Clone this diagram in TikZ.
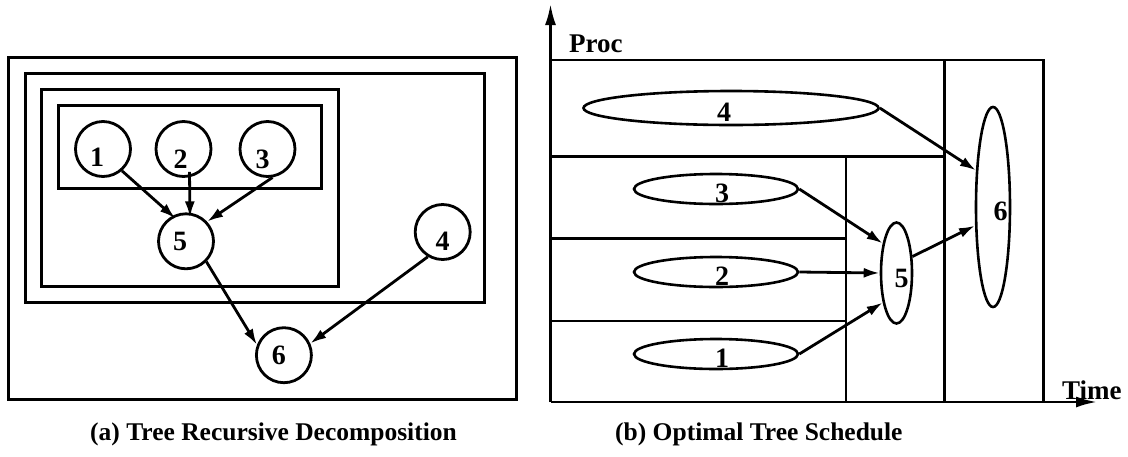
\documentclass[tikz,border=0pt]{standalone}
\usepackage{fontspec}
\setmainfont{Liberation Serif}
\usetikzlibrary{shapes.geometric,arrows.meta}
\begin{document}
\begin{tikzpicture}[x=1pt,y=-1pt,
  frame/.style={line width=3pt},
  grid/.style={line width=2.6pt},
  task/.style={circle,draw,line width=2.8pt,minimum size=55pt,inner sep=0pt},
  slot/.style={ellipse,draw,line width=2.6pt,inner sep=0pt},
  num/.style={font=\bfseries\fontsize{28}{28}\selectfont,inner sep=0pt},
  dep/.style={line width=2.8pt,-{Latex[length=16pt,width=10pt]}},
  axis/.style={line width=2.6pt,-{Latex[length=21pt,width=11pt]}},
  caption/.style={font=\bfseries\fontsize{25.5}{26}\selectfont,inner sep=0pt,anchor=base west},
]
\useasboundingbox (0,0) rectangle (1128,456);

% ---------- (a) nested decomposition ----------
\draw[frame] (8.5,57.5) rectangle (516,399.5);
\draw[frame] (25,73) rectangle (484,302);
\draw[frame] (41,89) rectangle (338,286.5);
\draw[frame] (58,105.5) rectangle (321,188);

\node[task,label={[num,xshift=-6pt,yshift=-8pt]center:1}] (c1) at (103,149) {};
\node[task,label={[num,xshift=-3pt,yshift=-10pt]center:2}] (c2) at (183.5,149) {};
\node[task,label={[num,xshift=-5pt,yshift=-10pt]center:3}] (c3) at (267.5,149) {};
\node[task,label={[num,xshift=0pt,yshift=-9pt]center:4}] (c4) at (442.7,232) {};
\node[task,label={[num,xshift=-6pt,yshift=0pt]center:5}] (c5) at (186,241.3) {};
\node[task,label={[num,xshift=-5pt,yshift=0pt]center:6}] (c6) at (283.9,355.2) {};

\draw[dep,shorten >=-4pt] (c1.-49) -- (c5.118);
\draw[dep] ([xshift=6pt,yshift=6pt]c2.south) -- ([xshift=4pt,yshift=-5pt]c5.north);
\draw[dep] (c3.-80) -- (c5.43);
\draw[dep] (c5.-45) -- (c6.159);
\draw[dep] (c4.-121) -- (c6.24);

\node[caption] (capa) at (90,440) {(a) Tree Recursive Decomposition};

% ---------- (b) schedule on processors over time ----------
\coordinate (O) at (550.5,402);
\coordinate (ytip) at (550.5,4);
\coordinate (xtip) at (1097,402);
\draw[axis] (O) -- (ytip);
\draw[axis] (O) -- (xtip);

\draw[grid] (550.5,60) -- (1043.5,60) -- (1043.5,402);
\draw[grid] (944.5,60) -- (944.5,402);
\draw[grid] (550.5,156.5) -- (944.5,156.5);
\draw[grid] (846,156.5) -- (846,402);
\draw[grid] (550.5,238.5) -- (846,238.5);
\draw[grid] (550.5,321) -- (846,321);

\node[font=\bfseries\fontsize{27}{27}\selectfont,inner sep=0pt,anchor=base west] (proc) at (569,52) {Proc};
\node[font=\bfseries\fontsize{27}{27}\selectfont,inner sep=0pt,anchor=base west] (time) at (1062,399) {Time};

\node[slot,minimum width=295pt,minimum height=34pt,label={[num,xshift=-7pt,yshift=-4pt]center:4}] (e4) at (731,108) {};
\node[slot,minimum width=164pt,minimum height=30pt,label={[num,xshift=6pt,yshift=-4pt]center:3}] (e3) at (716,189) {};
\node[slot,minimum width=164pt,minimum height=30pt,label={[num,xshift=6pt,yshift=-4pt]center:2}] (e2) at (716,272) {};
\node[slot,minimum width=164pt,minimum height=30pt,label={[num,xshift=6pt,yshift=-4pt]center:1}] (e1) at (716,354) {};
\node[slot,minimum width=31pt,minimum height=101pt,label={[num,xshift=5pt,yshift=-5pt]center:5}] (e5) at (896.5,273) {};
\node[slot,minimum width=34pt,minimum height=200pt,label={[num,xshift=7.5pt,yshift=-4pt]center:6}] (e6) at (993,207) {};

\draw[dep] (e4.east) -- (e6.115);
\draw[dep] (e3.east) -- (e5.115);
\draw[dep] (e2.east) -- (e5.west);
\draw[dep] (e1.east) -- (e5.245);
\draw[dep] (e5.46) -- (e6.226);

\node[caption] (capb) at (615,440) {(b) Optimal Tree Schedule};
\end{tikzpicture}
\end{document}
